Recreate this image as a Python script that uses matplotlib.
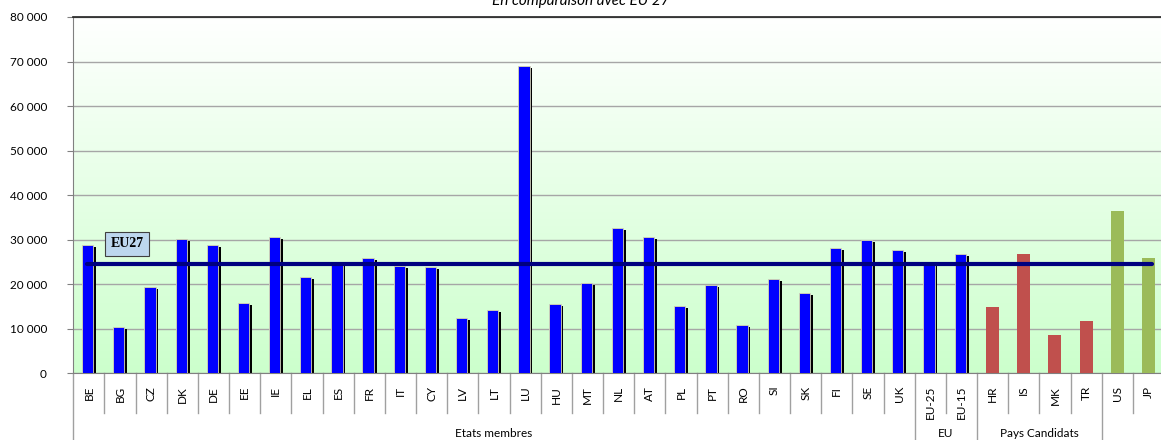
import matplotlib
matplotlib.use("Agg")
import matplotlib.pyplot as plt
import matplotlib.transforms as mtransforms
from matplotlib.ticker import FuncFormatter
import numpy as np

# Données
membres = ["BE", "BG", "CZ", "DK", "DE", "EE", "IE", "EL", "ES", "FR", "IT", "CY", "LV", "LT",
           "LU", "HU", "MT", "NL", "AT", "PL", "PT", "RO", "SI", "SK", "FI", "SE", "UK"]
val_membres = [28700, 10450, 19400, 30200, 28850, 15850, 30650, 21550, 24750, 25950, 24200, 23850,
               12450, 14150, 68950, 15500, 20250, 32600, 30650, 15150, 19750, 10900, 21100, 17950,
               28100, 29950, 27650]
eu = ["EU-25", "EU-15"]
val_eu = [25100, 26850]
candidats = ["HR", "IS", "MK", "TR"]
val_candidats = [14900, 26850, 8600, 11800]
autres = ["US", "JP"]
val_autres = [36400, 25900]
eu27 = 24600

groupes = ["Etats membres", "EU", "Pays Candidats"]

plt.rcParams["font.family"] = ["Lato", "DejaVu Sans"]

cats = membres + eu + candidats + autres
n = len(cats)
x = np.arange(n)

fig = plt.figure(figsize=(11.61, 4.40), dpi=100)
ax = fig.add_axes([73.3 / 1161, 1 - 373.3 / 440, (1164 - 73.3) / 1161, 356.3 / 440])

# fond en dégradé vert clair (bas) -> blanc (haut)
t = np.linspace(0, 1, 256).reshape(-1, 1, 1)
bas = np.array([0.80, 1.0, 0.80]).reshape(1, 1, 3)
haut = np.array([1.0, 1.0, 1.0]).reshape(1, 1, 3)
img = bas + (haut - bas) * t
ax.imshow(img, extent=[-0.5, n - 0.5, 0, 80000], aspect="auto", zorder=0, origin="lower")
ax.set_xlim(-0.5, n - 0.5)
ax.set_ylim(0, 80000)

ax.set_yticks(np.arange(0, 80001, 10000))
ax.yaxis.set_major_formatter(FuncFormatter(lambda v, p: f"{int(v):,}".replace(",", " ")))
ax.grid(axis="y", color="#a6a6a6", lw=1.0, zorder=1)
ax.set_axisbelow(True)

# barres bleues avec ombre noire
nb = len(membres) + len(eu)
vb = val_membres + val_eu
ax.bar(x[:nb] - 0.13, [v - 450 for v in vb], width=0.36, align="edge", color="black", zorder=2)
ax.bar(x[:nb] - 0.22, vb, width=0.36, align="edge", color="#0000ff",
       edgecolor="#d8d8b0", lw=0.6, zorder=3)
xc = x[nb:nb + len(candidats)]
ax.bar(xc, val_candidats, width=0.42, color="#c0504d", zorder=3)
xa = x[nb + len(candidats):]
ax.bar(xa, val_autres, width=0.42, color="#9bbb59", zorder=3)

# ligne EU27
ax.plot([-0.06, n - 1 + 0.1], [eu27, eu27], color="#000080", lw=3.0, zorder=4, solid_capstyle="round")
ax.text(1.22, 29050, "EU27", ha="center", va="center", fontsize=10, fontweight="bold",
        family="Liberation Serif", zorder=5,
        bbox=dict(boxstyle="square,pad=0.4", fc="#bdd7ee", ec="#404040", lw=0.8))

# axes
ax.spines["right"].set_visible(False)
ax.spines["top"].set_color("#202020")
ax.spines["top"].set_linewidth(1.2)
ax.spines["left"].set_color("#808080")
ax.spines["bottom"].set_color("#808080")
ax.tick_params(axis="y", length=4, color="#808080", pad=15, labelsize=8.5)
ax.set_xticks(x)
ax.set_xticklabels(cats, rotation=90, fontsize=8.5)
ax.tick_params(axis="x", length=0, pad=9)

# séparateurs sous l'axe
trans = mtransforms.blended_transform_factory(ax.transData, ax.transAxes)
courts = -40 / 356.3
longs = -70 / 356.3
limites_groupes = [-0.5, len(membres) - 0.5, nb - 0.5, nb + len(candidats) - 0.5]
for b in np.arange(-0.5, n, 1.0):
    y2 = longs if b in limites_groupes else courts
    ax.plot([b, b], [0, y2], transform=trans, color="#a0a0a0", lw=1.0, clip_on=False)

centres = [(len(membres) - 1) / 2, len(membres) + (len(eu) - 1) / 2,
           nb + (len(candidats) - 1) / 2]
for g, c in zip(groupes, centres):
    ax.text(c, -60 / 356.3, g, transform=trans, ha="center", va="center", fontsize=8.5)

fig.text(581 / 1161, 1 - 5 / 440, "En comparaison avec EU 27", ha="center", va="baseline",
         fontsize=11, style="italic")

fig.savefig("out.png", dpi=100)
